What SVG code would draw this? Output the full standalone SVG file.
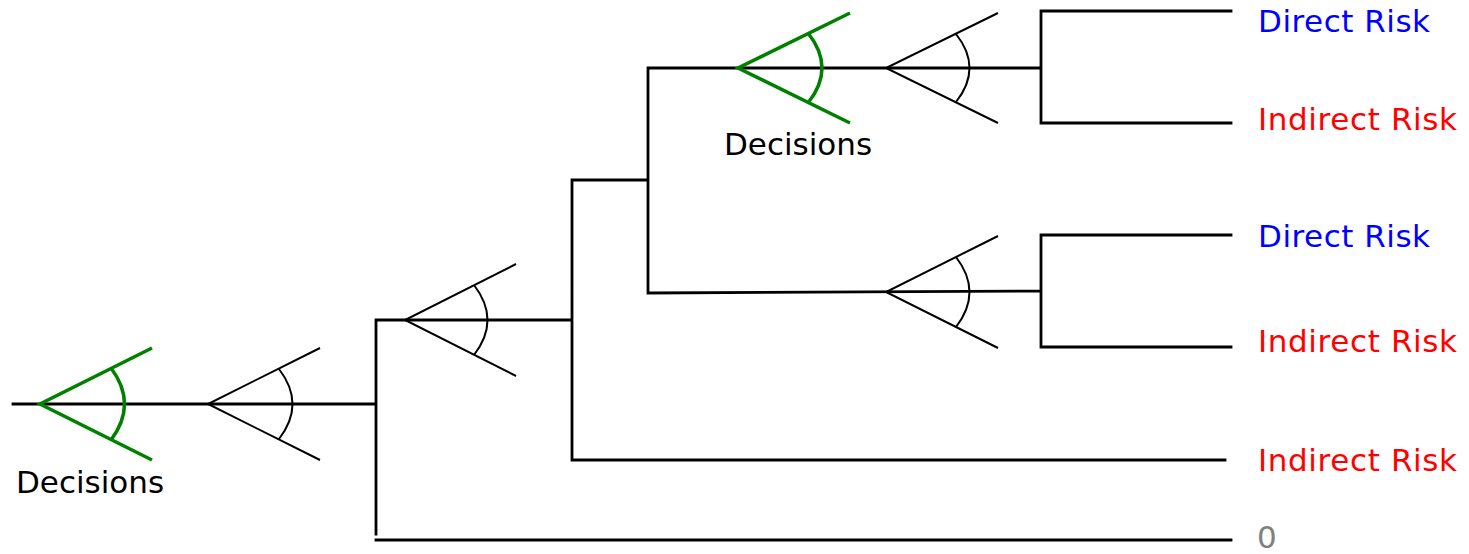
<svg xmlns="http://www.w3.org/2000/svg" width="1469" height="554" viewBox="0 0 1469 554">
<style>
.ln{stroke:#000;stroke-width:2.8;fill:none;stroke-linecap:square}
.fk{stroke:#000;stroke-width:2;fill:none}
.gk{stroke:#008000;stroke-width:3.5;fill:none}
text{font-family:"DejaVu Sans","Verdana",sans-serif;font-size:31px}
.dr{fill:#0000ff}.ir{fill:#ff0000}.dc{fill:#000}.z{fill:#808080}
</style>
<g id="connectors">
<path class="ln" d="M13,404H376M376,320V534M376,320H572M376,540H1231M572,180V460M572,460H1225M572,180H648M648,68V293M648,68H1041M648,293L1041,291M1041,11V123M1041,11H1231M1041,123H1231M1041,235V347M1041,235H1231M1041,347H1231"/>
</g>
<g id="decision1">
<path class="gk" d="M152,348L40,404L152,460M111,368Q138,404 111,440"/>
<text class="dc" x="16" y="493">Decisions</text>
</g>
<g id="chance1">
<path class="fk" d="M320,348L208,404L320,460M279,369Q306,404 279,439"/>
</g>
<g id="chance2">
<path class="fk" d="M516,264L405,320L516,376M474,285Q501,320 474,355"/>
</g>
<g id="decision2">
<path class="gk" d="M850,13L738,68L850,123M808,33Q836,68 808,103"/>
<text class="dc" x="724" y="155">Decisions</text>
</g>
<g id="chance3">
<path class="fk" d="M998,13L886,68L998,123M956,34Q983,68 956,102"/>
</g>
<g id="chance4">
<path class="fk" d="M998,236L886,292L998,348M956,257Q983,292 956,327"/>
</g>
<g id="outcomes">
<text class="dr" x="1258" y="32" textLength="172" lengthAdjust="spacing">Direct Risk</text>
<text class="ir" x="1258" y="130" textLength="199" lengthAdjust="spacing">Indirect Risk</text>
<text class="dr" x="1258" y="247" textLength="172" lengthAdjust="spacing">Direct Risk</text>
<text class="ir" x="1258" y="352" textLength="199" lengthAdjust="spacing">Indirect Risk</text>
<text class="ir" x="1258" y="471" textLength="199" lengthAdjust="spacing">Indirect Risk</text>
<text class="z" x="1257" y="548">0</text>
</g>
</svg>
